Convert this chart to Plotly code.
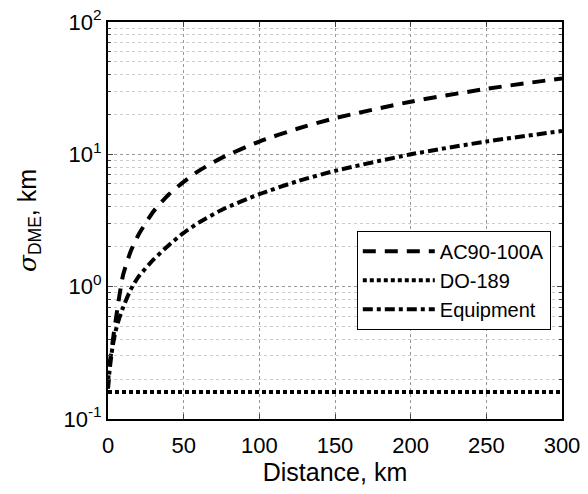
import plotly.graph_objects as go

distance_km = [0, 0.5, 1, 2, 3, 5, 7.5, 10, 15, 20, 30, 40, 50, 60, 75, 100, 125, 150, 200, 250, 300]
ac90_100a = [0.17, 0.23, 0.26, 0.31, 0.38, 0.55, 0.85, 1.23, 1.85, 2.45, 3.7, 4.95, 6.2, 7.5, 9.4, 12.5, 15.6, 18.75, 25.0, 31.25, 37.5]
do_189 = [0.16] * len(distance_km)
equipment = [0.17, 0.2, 0.23, 0.29, 0.35, 0.46, 0.58, 0.7, 0.95, 1.18, 1.6, 2.05, 2.55, 3.05, 3.8, 5.0, 6.25, 7.5, 10.0, 12.5, 15.0]

y_tickvals = [0.1, 1, 10, 100]
y_ticktext = ["10<sup>-1</sup>", "10<sup>0</sup>", "10<sup>1</sup>", "10<sup>2</sup>"]
x_tickvals = [0, 50, 100, 150, 200, 250, 300]

font = "Liberation Sans, Arial, sans-serif"

fig = go.Figure()
fig.add_trace(go.Scatter(x=distance_km, y=ac90_100a, mode="lines", name="AC90-100A",
                         line=dict(color="black", width=4, dash="13px,9px", shape="spline", smoothing=0.6)))
fig.add_trace(go.Scatter(x=distance_km, y=do_189, mode="lines", name="DO-189",
                         line=dict(color="black", width=4, dash="4px,3px")))
fig.add_trace(go.Scatter(x=distance_km, y=equipment, mode="lines", name="Equipment",
                         line=dict(color="black", width=4, dash="10px,4px,4px,4px", shape="spline", smoothing=0.6)))

fig.update_layout(
    width=588, height=494,
    margin=dict(l=108, r=26, t=22, b=75),
    paper_bgcolor="white", plot_bgcolor="white",
    font=dict(family=font, size=22, color="black"),
    showlegend=True,
    legend=dict(x=0.548, y=0.474, xanchor="left", yanchor="top",
                bordercolor="black", borderwidth=1, bgcolor="white",
                font=dict(size=20, family=font), tracegroupgap=0,
                itemwidth=72),
)
fig.update_xaxes(
    range=[0, 300], tickvals=x_tickvals, ticks="inside", ticklen=5,
    showline=True, linecolor="black", linewidth=2, mirror="ticks",
    showgrid=True, gridcolor="#999999", griddash="dot", gridwidth=1,
    zeroline=False, tickfont=dict(size=22), automargin=False,
    ticklabelstandoff=6,
    title=dict(text="Distance, km", font=dict(size=25), standoff=4),
)
fig.update_yaxes(
    type="log", range=[-1, 2], tickvals=y_tickvals, ticktext=y_ticktext,
    ticks="inside", ticklen=5,
    showline=True, linecolor="black", linewidth=2, mirror="ticks",
    showgrid=True, gridcolor="#999999", griddash="dot", gridwidth=1,
    zeroline=False, tickfont=dict(size=22), automargin=False,
    minor=dict(ticks="inside", ticklen=3, showgrid=True, gridcolor="#cccccc",
               griddash="dot", gridwidth=1, dtick="D1"),
    title=dict(text="<span style='font-family:DejaVu Serif;font-style:italic'>σ</span><sub>DME</sub>, km",
               font=dict(size=25), standoff=20),
)

fig.write_html("out.html", config={"displayModeBar": False},
               post_script="document.body.style.margin='0';document.body.style.padding='0';")
